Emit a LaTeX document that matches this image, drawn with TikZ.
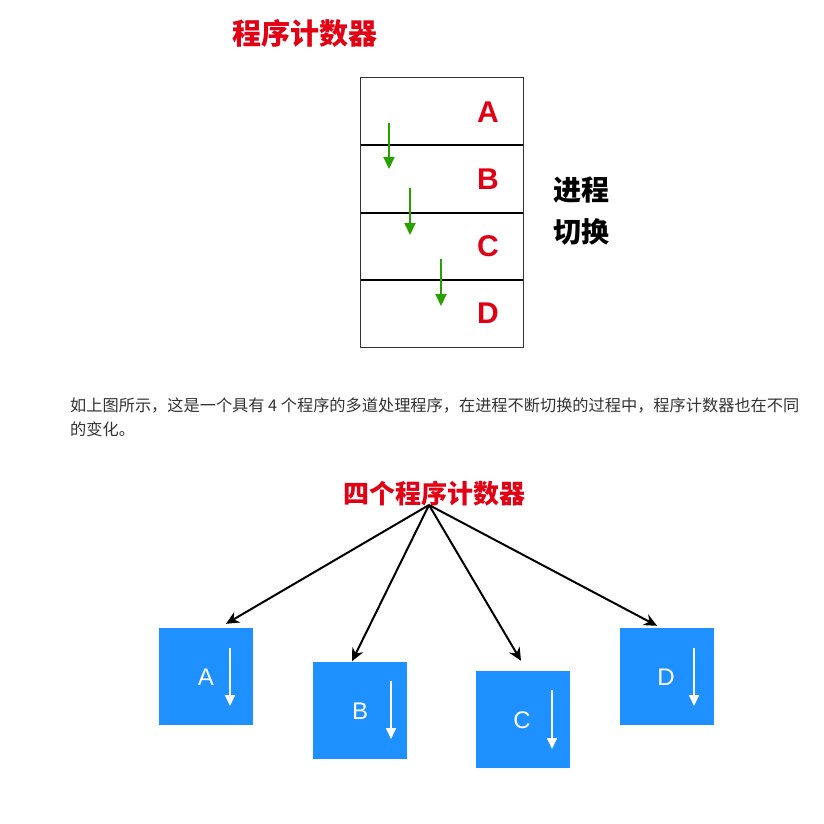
\documentclass[tikz,border=0pt]{standalone}
\usepackage{fontspec}
\setmainfont{Liberation Sans}
\newfontfamily\cjk{Noto Sans CJK SC}
\usepackage{tikz}
\usetikzlibrary{arrows.meta, positioning, calc}
\definecolor{pcred}{RGB}{225,0,20}
\definecolor{stepgreen}{RGB}{40,160,0}
\definecolor{boxblue}{RGB}{30,144,255}
\definecolor{textgray}{RGB}{51,51,51}
\newcommand{\fsz}[1]{\fontsize{#1}{#1}\selectfont}
\tikzset{
  titlenode/.style={text=pcred,font=\cjk\bfseries\fsz{29}},
  cell/.style={rectangle,minimum width=162pt,minimum height=67pt,inner sep=0pt},
  frame/.style={draw=black!80,line width=1.2pt},
  sepline/.style={draw=black,line width=2pt},
  letter/.style={text=pcred,font=\bfseries\fsz{30}},
  sidenote/.style={font=\cjk\bfseries\fsz{28},align=left},
  greenarr/.style={-{Triangle[length=12pt,width=11pt]},line width=2pt,color=stepgreen},
  para/.style={text=textgray,font=\cjk\fsz{16.2},align=left,anchor=west,inner sep=0pt},
  pcbox/.style={rectangle,fill=boxblue,minimum width=94pt,minimum height=97pt,inner sep=0pt},
  boxlabel/.style={text=white,font=\fsz{24}},
  whitearr/.style={-{Triangle[length=11pt,width=10pt]},line width=1.8pt,color=white},
  arr/.style={-{Stealth[length=13pt,width=12pt]},line width=2pt,color=black}
}

\begin{document}
\begin{tikzpicture}[x=1pt,y=-1pt]
  \useasboundingbox (0,0) rectangle (823,824);
  % top: one program counter
  \node[titlenode] (t1) at (305,33) {程序计数器};
  \node[cell] (ca) at (442,111.5) {};
  \node[cell,below=0pt of ca] (cb) {};
  \node[cell,below=0pt of cb] (cc) {};
  \node[cell,below=0pt of cc] (cd) {};
  \draw[frame] (ca.north west) rectangle (cd.south east);
  \draw[sepline] (ca.south west)--(ca.south east);
  \draw[sepline] (cb.south west)--(cb.south east);
  \draw[sepline] (cc.south west)--(cc.south east);
  \node[letter] (la) at (488,112) {A};
  \node[letter] (lb) at (488,179) {B};
  \node[letter] (lc) at (488,246) {C};
  \node[letter] (ld) at (488,313) {D};
  \draw[greenarr] (389,123)--(389,169);
  \draw[greenarr] (410,188)--(410,235);
  \draw[greenarr] (441,259)--(441,306);
  \node[sidenote] (sw) at (581,211) {进程\\[14pt]切换};
  % caption
  \node[para] (txt) at (70,417) {如上图所示，这是一个具有 4 个程序的多道处理程序，在进程不断切换的过程中，程序计数器也在不同\\[8pt]的变化。};
  % bottom: four program counters
  \node[titlenode,font=\cjk\bfseries\fsz{26}] (t2) at (434,494) {四个程序计数器};
  \coordinate (src) at (429,505);
  \node[pcbox] (pa) at (206,676.5) {};
  \node[pcbox] (pb) at (360,710) {};
  \node[pcbox] (pc) at (523,719.5) {};
  \node[pcbox] (pd) at (667,676.5) {};
  \node[boxlabel] at (206,677) {A};
  \node[boxlabel] at (360,711) {B};
  \node[boxlabel] at (522,720) {C};
  \node[boxlabel] at (666,677) {D};
  \draw[whitearr] (230,648)--(230,706);
  \draw[whitearr] (391,681)--(391,739);
  \draw[whitearr] (552,690)--(552,749);
  \draw[whitearr] (694,648)--(694,706);
  \draw[arr] (src)--([xshift=20pt,yshift=4pt]pa.north);
  \draw[arr] (src)--([xshift=-8pt]pb.north);
  \draw[arr] (src)--([xshift=-2pt,yshift=10pt]pc.north);
  \draw[arr] (src)--([xshift=-10pt,yshift=2pt]pd.north);
\end{tikzpicture}
\end{document}
